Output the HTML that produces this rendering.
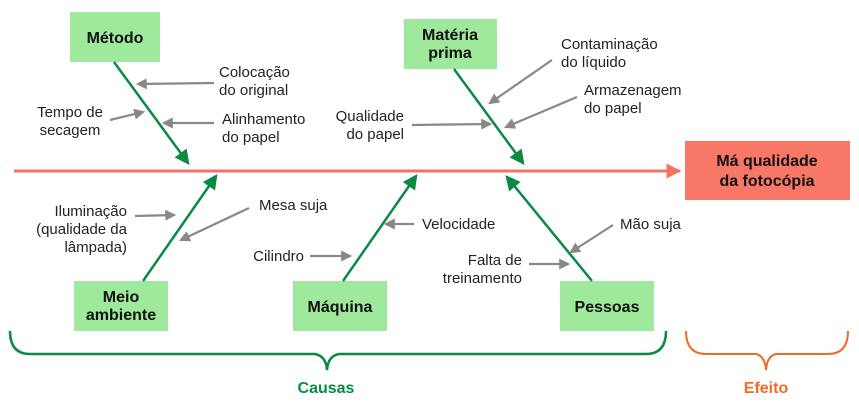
<!DOCTYPE html>
<html><head><meta charset="utf-8"><style>
html,body{margin:0;padding:0;background:#fff;}
svg text{font-family:"Liberation Sans",sans-serif;}
</style></head><body>
<svg width="859" height="411" viewBox="0 0 859 411" xmlns="http://www.w3.org/2000/svg">
<defs>
<marker id="g" markerWidth="6" markerHeight="6" refX="5" refY="3" orient="auto" markerUnits="strokeWidth"><path d="M0,0 L6,3 L0,6 z" fill="#0a8a45"/></marker>
<marker id="k" markerWidth="5" markerHeight="5" refX="4" refY="2.5" orient="auto" markerUnits="strokeWidth"><path d="M0,0 L5,2.5 L0,5 z" fill="#888"/></marker>
<marker id="r" markerWidth="5" markerHeight="5" refX="4.5" refY="2.5" orient="auto" markerUnits="strokeWidth"><path d="M0,0 L5,2.5 L0,5 z" fill="#f07565"/></marker>
</defs>
<!-- spine -->
<line x1="14" y1="171" x2="680" y2="171" stroke="#f07565" stroke-width="3" marker-end="url(#r)"/>
<rect x="685" y="141" width="165" height="59" fill="#f87766"/>
<text font-size="16" font-weight="bold" text-anchor="middle" fill="#111"><tspan x="767" y="166">Má qualidade</tspan><tspan x="767" y="186">da fotocópia</tspan></text>
<!-- green boxes -->
<g fill="#9ee99b">
<rect x="70" y="12" width="90" height="50"/>
<rect x="404" y="19" width="93" height="50"/>
<rect x="74" y="281" width="94" height="50"/>
<rect x="293" y="281" width="94" height="50"/>
<rect x="560" y="281" width="94" height="50"/>
</g>
<g font-size="16" font-weight="bold" text-anchor="middle" fill="#111">
<text x="115" y="43">Método</text>
<text x="450" y="40">Matéria</text><text x="450" y="58">prima</text>
<text x="121" y="302">Meio</text><text x="121" y="320">ambiente</text>
<text x="340" y="312">Máquina</text>
<text x="607" y="312">Pessoas</text>
</g>
<!-- green arrows -->
<g stroke="#0a8a45" stroke-width="2.5" fill="none">
<line x1="114" y1="62" x2="188" y2="163" marker-end="url(#g)"/>
<line x1="454" y1="69" x2="523" y2="163" marker-end="url(#g)"/>
<line x1="143" y1="281" x2="216" y2="176" marker-end="url(#g)"/>
<line x1="343" y1="281" x2="416" y2="176" marker-end="url(#g)"/>
<line x1="592" y1="281" x2="507" y2="177" marker-end="url(#g)"/>
</g>
<!-- gray arrows -->
<g stroke="#888" stroke-width="2.2" fill="none">
<line x1="214" y1="83" x2="138" y2="84" marker-end="url(#k)"/>
<line x1="110" y1="120" x2="143" y2="112" marker-end="url(#k)"/>
<line x1="214" y1="123" x2="164" y2="123" marker-end="url(#k)"/>
<line x1="552" y1="60" x2="490" y2="103" marker-end="url(#k)"/>
<line x1="577" y1="97" x2="506" y2="127" marker-end="url(#k)"/>
<line x1="412" y1="125" x2="490" y2="124" marker-end="url(#k)"/>
<line x1="135" y1="216" x2="174" y2="215" marker-end="url(#k)"/>
<line x1="249" y1="208" x2="181" y2="240" marker-end="url(#k)"/>
<line x1="310" y1="256" x2="350" y2="256" marker-end="url(#k)"/>
<line x1="414" y1="224" x2="386" y2="224" marker-end="url(#k)"/>
<line x1="613" y1="225" x2="571" y2="252" marker-end="url(#k)"/>
<line x1="529" y1="264" x2="568" y2="264" marker-end="url(#k)"/>
</g>
<g font-size="15" fill="#222">
<text x="219" y="77">Colocação</text><text x="219" y="95">do original</text>
<text x="222" y="124">Alinhamento</text><text x="222" y="142">do papel</text>
<text x="70" y="117" text-anchor="middle">Tempo de</text><text x="70" y="135" text-anchor="middle">secagem</text>
<text x="561" y="49">Contaminação</text><text x="561" y="67">do líquido</text>
<text x="584" y="95">Armazenagem</text><text x="584" y="113">do papel</text>
<text x="404" y="121" text-anchor="end">Qualidade</text><text x="404" y="139" text-anchor="end">do papel</text>
<text x="127" y="216" text-anchor="end">Iluminação</text><text x="127" y="234" text-anchor="end">(qualidade da</text><text x="127" y="252" text-anchor="end">lâmpada)</text>
<text x="259" y="210">Mesa suja</text>
<text x="304" y="261" text-anchor="end">Cilindro</text>
<text x="422" y="229">Velocidade</text>
<text x="620" y="229">Mão suja</text>
<text x="522" y="265" text-anchor="end">Falta de</text><text x="522" y="283" text-anchor="end">treinamento</text>
</g>
<!-- braces -->
<path d="M10,331 Q10,354 30,354 L315,354 Q326,356 327,370 Q328,356 339,354 L646,354 Q666,354 666,331" stroke="#0a8a45" stroke-width="2.5" fill="none"/>
<path d="M686,331 Q686,354 706,354 L756,354 Q765,356 766,370 Q767,356 776,354 L828,354 Q848,354 848,331" stroke="#f26a2a" stroke-width="2" fill="none"/>
<text x="326" y="393" font-size="16" font-weight="bold" fill="#0a8a45" text-anchor="middle">Causas</text>
<text x="766" y="393" font-size="16" font-weight="bold" fill="#f26a2a" text-anchor="middle">Efeito</text>
</svg>
</body></html>
